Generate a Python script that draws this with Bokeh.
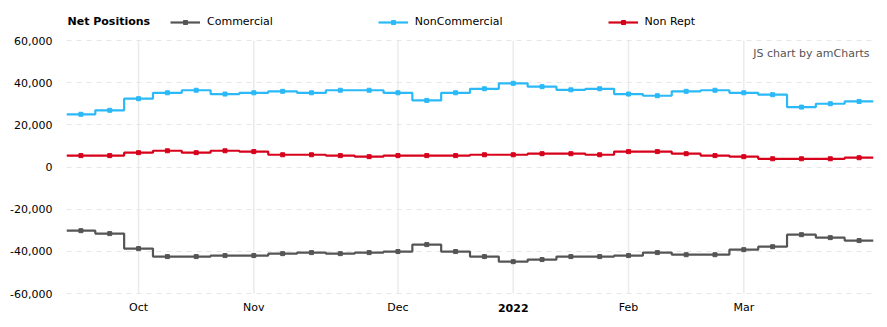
from bokeh.plotting import figure
from bokeh.models import (Legend, LegendItem, Label, FixedTicker, NumeralTickFormatter,
                          Range1d)
from bokeh.embed import file_html
from bokeh.resources import INLINE

# Weekly report dates (Tuesdays), Sep 21 2021 .. Mar 29 2022
dates = ["2021-09-21", "2021-09-28", "2021-10-05", "2021-10-12", "2021-10-19", "2021-10-26",
         "2021-11-02", "2021-11-09", "2021-11-16", "2021-11-23", "2021-11-30", "2021-12-07",
         "2021-12-14", "2021-12-21", "2021-12-28", "2022-01-04", "2022-01-11", "2022-01-18",
         "2022-01-25", "2022-02-01", "2022-02-08", "2022-02-15", "2022-02-22", "2022-03-01",
         "2022-03-08", "2022-03-15", "2022-03-22", "2022-03-29"]

commercial = [-30200, -31600, -38700, -42500, -42500, -42000, -42000, -41100, -40600, -41100,
              -40600, -40100, -36800, -40100, -42500, -44900, -43900, -42500, -42500, -42000,
              -40600, -41600, -41600, -39200, -37800, -32100, -33500, -34900]
noncommercial = [25000, 26900, 32400, 35200, 36400, 34600, 35200, 35900, 35200, 36400,
                 36400, 35200, 31600, 35200, 37100, 39700, 38100, 36600, 37100, 34600,
                 33800, 35900, 36400, 35200, 34300, 28400, 30000, 31100]
nonrept = [5400, 5400, 6800, 7700, 6800, 7700, 7300, 5800, 5800, 5400,
           4900, 5400, 5400, 5400, 5800, 5800, 6300, 6300, 5800, 7300,
           7300, 6300, 5400, 4900, 3900, 3900, 3900, 4400]

series_names = ["Commercial", "NonCommercial", "Non Rept"]
series_colors = ["#555555", "#2bb9f7", "#d7001b"]
month_names = {1: "2022", 2: "Feb", 3: "Mar", 10: "Oct", 11: "Nov", 12: "Dec"}
y_ticks = [-60000, -40000, -20000, 0, 20000, 40000, 60000]

FONT = "DejaVu Sans"
W, H = 887, 327
PLOT_TOP, PLOT_BOTTOM = 40, 293          # pixel rows of +60,000 and -60,000
n = len(dates)
idx = list(range(n))

# month ticks at first report of each month
month_ticks = []
for i, d in enumerate(dates):
    m = int(d[5:7])
    if i > 0 and m != int(dates[i - 1][5:7]):
        month_ticks.append(i)

ymin, ymax = min(y_ticks), max(y_ticks)
per_px = (ymax - ymin) / (PLOT_BOTTOM - PLOT_TOP)
y_start = ymin - (H - PLOT_BOTTOM) * per_px
y_end = ymax + PLOT_TOP * per_px

p = figure(width=W, height=H, output_backend="svg", toolbar_location=None,
           x_range=Range1d(-0.5, n - 0.5), y_range=Range1d(y_start, y_end),
           x_axis_location=None,
           min_border_left=66, min_border_right=14, min_border_top=0, min_border_bottom=0)
p.outline_line_color = None
p.background_fill_color = "white"
p.border_fill_color = "white"

# grids
p.ygrid.ticker = FixedTicker(ticks=y_ticks)
p.ygrid.grid_line_color = "#e6e6e6"
p.ygrid.grid_line_dash = "5 5"
p.ygrid.grid_line_width = 1
for g in list(p.xgrid):
    g.visible = False
# vertical month grid lines, spanning only the value range
p.segment(x0=month_ticks, y0=[ymin] * len(month_ticks), x1=month_ticks,
          y1=[ymax] * len(month_ticks), line_color="#ebebeb", line_width=1.5, level="underlay")

renderers = []
for name, vals, col in zip(series_names, [commercial, noncommercial, nonrept], series_colors):
    xs, ys = [], []
    for i, v in zip(idx, vals):
        xs += [i - 0.5, i + 0.5]
        ys += [v, v]
    ln = p.line(xs, ys, line_color=col, line_width=2.2)
    sc = p.scatter(idx, vals, marker="square", size=4, fill_color=col, line_color=col)
    renderers.append((name, [ln, sc]))

# y axis
p.yaxis.ticker = FixedTicker(ticks=y_ticks)
p.yaxis.formatter = NumeralTickFormatter(format="0,0")
ax = p.yaxis[0]
ax.axis_line_color = None
ax.major_tick_line_color = None
ax.minor_tick_line_color = None
ax.major_label_text_font = FONT
ax.major_label_text_font_size = "11px"
ax.major_label_text_color = "#000000"
ax.major_label_standoff = 8

# month labels (x axis)
for t in month_ticks:
    m = int(dates[t][5:7])
    p.add_layout(Label(x=t, y=H - 307, x_units="data", y_units="screen", text=month_names[m],
                       text_font=FONT, text_font_size="11px",
                       text_font_style="bold" if m == 1 else "normal",
                       text_align="center", text_baseline="middle", text_color="#000000"))

# legend
legend = Legend(items=[LegendItem(label=nm, renderers=r) for nm, r in renderers],
                orientation="horizontal", location=(104, H - 28),
                padding=0, margin=0, spacing=105, glyph_width=30, glyph_height=10,
                label_standoff=7, border_line_color=None, background_fill_alpha=0,
                label_text_font=FONT, label_text_font_size="11px", label_text_color="#000000")
p.add_layout(legend, "center")

p.add_layout(Label(x=1, y=H - 21, x_units="screen", y_units="screen", text="Net Positions",
                   text_font=FONT, text_font_size="11px", text_font_style="bold",
                   text_baseline="middle", text_color="#000000"))
p.add_layout(Label(x=803, y=H - 53, x_units="screen", y_units="screen", text="JS chart by amCharts",
                   text_font=FONT, text_font_size="11px", text_align="right",
                   text_baseline="middle", text_color="#555555"))

open("out.html", "w").write(file_html(p, INLINE))
